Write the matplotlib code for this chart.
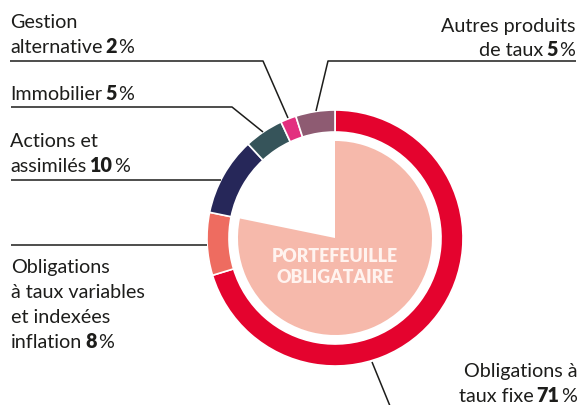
import matplotlib
matplotlib.use("Agg")
import matplotlib.pyplot as plt

# ---- data ----
categories = ["Obligations à taux fixe", "Obligations à taux variables et indexées inflation",
              "Actions et assimilés", "Immobilier", "Gestion alternative",
              "Autres produits de taux"]
values = [71, 8, 10, 5, 2, 5]
colors = ["#E4032E", "#EE6C60", "#262759", "#36545A", "#E3307F", "#8E5B72"]
bond_share = [71 + 8, 10 + 5 + 2 + 5]  # portefeuille obligataire vs rest
center_label = ["PORTEFEUILLE", "OBLIGATAIRE"]

W, H = 579, 406
fig = plt.figure(figsize=(W / 100, H / 100), dpi=100)
ax = fig.add_axes([0, 0, 1, 1])
CX, CY = 335, 239
R_OUT, RING_W, R_PIE = 128, 22, 97

ax.pie(values, colors=colors, radius=R_OUT, center=(CX, CY), startangle=-90,
       counterclock=True, wedgeprops=dict(width=RING_W, edgecolor="white", linewidth=1.2))
ax.pie(bond_share, colors=["#F6B9AB", "none"], radius=R_PIE, center=(CX, CY),
       startangle=-90, counterclock=True, wedgeprops=dict(linewidth=0))
ax.set_xlim(0, W)
ax.set_ylim(H, 0)
ax.set_aspect("equal")
ax.axis("off")

FONT = "Lato"
FS = 14.2
TXT = "#1d1d1b"
BOLD = "heavy"

fig.canvas.draw()
renderer = fig.canvas.get_renderer()


def width_of(s, weight):
    t = ax.text(0, 0, s, fontsize=FS, family=FONT, fontweight=weight)
    w = t.get_window_extent(renderer).width
    t.remove()
    return w


def rich(x, y, parts, ha="left"):
    # parts: list of (text, weight, gap_after)
    widths = [width_of(s, w) for s, w, g in parts]
    total = sum(widths) + sum(g for _, _, g in parts[:-1])
    x0 = x if ha == "left" else x - total
    for (s, w, g), wd in zip(parts, widths):
        ax.text(x0, y, s, fontsize=FS, family=FONT, fontweight=w, color=TXT,
                va="baseline", ha="left")
        x0 += wd + g


SP = 3.0
TH = 1.5
# left labels
rich(10, 28, [("Gestion", "normal", 0)])
rich(10, 53, [("alternative", "normal", SP), ("2", BOLD, TH), ("%", "normal", 0)])
rich(10, 100, [("Immobilier", "normal", SP), ("5", BOLD, TH), ("%", "normal", 0)])
rich(10, 147, [("Actions et", "normal", 0)])
rich(10, 172, [("assimilés", "normal", SP), ("10", BOLD, TH), ("%", "normal", 0)])
rich(11, 273, [("Obligations", "normal", 0)])
rich(11, 298, [("à taux variables", "normal", 0)])
rich(11, 323, [("et indexées", "normal", 0)])
rich(11, 348, [("inflation", "normal", SP), ("8", BOLD, TH), ("%", "normal", 0)])
# right labels
rich(575, 32, [("Autres produits", "normal", 0)], ha="right")
rich(575, 56, [("de taux", "normal", SP), ("5", BOLD, TH), ("%", "normal", 0)], ha="right")
rich(577, 377, [("Obligations à", "normal", 0)], ha="right")
rich(577, 402, [("taux fixe", "normal", SP), ("71", BOLD, TH), ("%", "normal", 0)], ha="right")

# leader lines
lk = dict(color="#1d1d1b", lw=1.1, solid_capstyle="butt")
ax.plot([10, 263, 288], [62, 62, 119], **lk)
ax.plot([11, 232, 263], [108, 108, 133], **lk)
ax.plot([11, 221], [181, 181], **lk)
ax.plot([11, 207], [246, 246], **lk)
ax.plot([576, 328, 316], [62, 62, 112], **lk)
ax.plot([372, 390], [363, 407], **lk)

# centre label
for yy, s in zip([262, 283], center_label):
    ax.text(CX, yy, s, fontsize=12.8, family=FONT, fontweight="heavy",
            color="#FFF3EF", ha="center", va="baseline")

fig.savefig("out.png", dpi=100)
